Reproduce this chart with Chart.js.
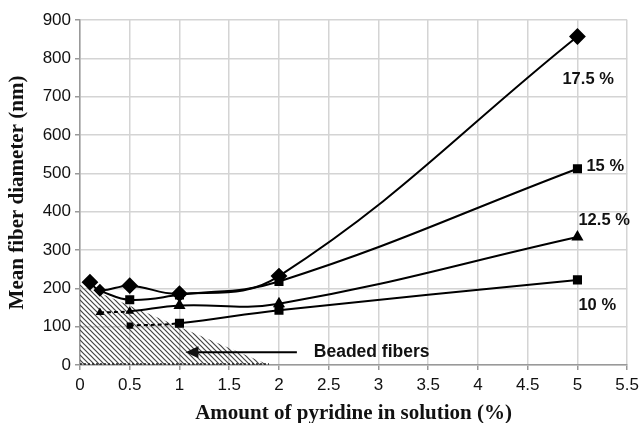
<!DOCTYPE html>
<html>
<head>
<meta charset="utf-8">
<script src="https://cdn.jsdelivr.net/npm/chart.js@4"></script>
<style>
  body { margin: 0; background: #fff; }
  #wrap { width: 644px; height: 423px; }
</style>
</head>
<body>
<div id="wrap"><canvas id="fiberChart" width="644" height="423"></canvas></div>
<script>
// values
const xTicks = [0, 0.5, 1, 1.5, 2, 2.5, 3, 3.5, 4, 4.5, 5, 5.5];
const yTicks = [0, 100, 200, 300, 400, 500, 600, 700, 800, 900];

const pyridine175 = [0.1, 0.2, 0.5, 1, 2, 5];
const diameter175 = [216, 195, 207, 186, 232, 857];

const pyridine15 = [0.2, 0.5, 1, 2, 5];
const diameter15 = [193, 170, 183, 218, 512];

const pyridine125 = [0.2, 0.5, 1, 2, 5];
const diameter125 = [137, 140, 155, 160, 334];

const pyridine10 = [0.5, 1, 2, 5];
const diameter10 = [103, 109, 143, 222];

// beaded fibers region (triangle)
const beadedX = [0, 1.9];
const beadedY = [210, 0];

const seriesLabels = ['17.5 %', '15 %', '12.5 %', '10 %'];

function toPoints(xs, ys) {
    return xs.map((x, i) => ({ x: x, y: ys[i] }));
}

// hatch pattern for the beaded region
function makeHatch() {
    const c = document.createElement('canvas');
    c.width = 5; c.height = 5;
    const g = c.getContext('2d');
    g.strokeStyle = '#444';
    g.lineWidth = 1.2;
    g.beginPath();
    g.moveTo(-1, -1); g.lineTo(6, 6);
    g.moveTo(-1, 4); g.lineTo(1, 6);
    g.moveTo(4, -1); g.lineTo(6, 1);
    g.stroke();
    return g.createPattern(c, 'repeat');
}

const dashFirst = {
    borderDash: ctx => ctx.p0DataIndex === 0 ? [4, 3] : undefined
};

// text labels, arrow, baseline of beaded region
const annotations = {
    id: 'annotations',
    afterDatasetsDraw(chart) {
        const ctx = chart.ctx;
        const xs = chart.scales.x, ys = chart.scales.y;
        ctx.save();

        // dotted base of the hatched area
        ctx.strokeStyle = '#222';
        ctx.lineWidth = 1.5;
        ctx.setLineDash([2, 2]);
        ctx.beginPath();
        ctx.moveTo(xs.getPixelForValue(beadedX[0]), ys.getPixelForValue(0) - 1);
        ctx.lineTo(xs.getPixelForValue(beadedX[1]), ys.getPixelForValue(0) - 1);
        ctx.stroke();
        ctx.setLineDash([]);

        ctx.fillStyle = '#111';
        ctx.font = 'bold 16.5px "Liberation Sans", Arial, sans-serif';
        ctx.textBaseline = 'middle';
        ctx.textAlign = 'left';
        const px5 = xs.getPixelForValue(5);
        ctx.fillText(seriesLabels[0], px5 - 15, ys.getPixelForValue(744));
        ctx.fillText(seriesLabels[1], px5 + 9, ys.getPixelForValue(517));
        ctx.fillText(seriesLabels[2], px5 + 1, ys.getPixelForValue(377));
        ctx.fillText(seriesLabels[3], px5 + 1, ys.getPixelForValue(156));

        // arrow to the beaded region
        const ay = ys.getPixelForValue(33);
        const ax0 = xs.getPixelForValue(2.18), ax1 = xs.getPixelForValue(1.06);
        ctx.strokeStyle = '#000';
        ctx.lineWidth = 2;
        ctx.beginPath();
        ctx.moveTo(ax0, ay); ctx.lineTo(ax1 + 6, ay);
        ctx.stroke();
        ctx.beginPath();
        ctx.moveTo(ax1, ay);
        ctx.lineTo(ax1 + 13, ay - 6);
        ctx.lineTo(ax1 + 13, ay + 6);
        ctx.closePath();
        ctx.fill();
        ctx.font = 'bold 17.5px "Liberation Sans", Arial, sans-serif';
        ctx.fillText('Beaded fibers', xs.getPixelForValue(2.35), ay);
        ctx.restore();
    }
};

document.addEventListener('DOMContentLoaded', function() {
    const ctx = document.getElementById('fiberChart').getContext('2d');
    const lineBase = {
        borderColor: '#000',
        backgroundColor: '#000',
        pointBackgroundColor: '#000',
        pointBorderColor: '#000',
        borderWidth: 2,
        tension: 0.4,
        fill: false
    };
    const tickFont = { family: '"Liberation Sans", Arial, sans-serif', size: 17 };
    const titleFont = { family: '"Liberation Serif", "Times New Roman", serif', size: 21, weight: 'bold' };

    new Chart(ctx, {
        type: 'line',
        data: {
            datasets: [
                Object.assign({}, lineBase, {
                    label: seriesLabels[0],
                    data: toPoints(pyridine175, diameter175),
                    pointStyle: 'rectRot',
                    pointRadius: [7, 5, 7, 7, 7, 7]
                }),
                Object.assign({}, lineBase, {
                    label: seriesLabels[1],
                    data: toPoints(pyridine15, diameter15),
                    pointStyle: 'rect',
                    pointRadius: [0, 5, 5, 5, 5]
                }),
                Object.assign({}, lineBase, {
                    label: seriesLabels[2],
                    data: toPoints(pyridine125, diameter125),
                    pointStyle: 'triangle',
                    pointRadius: [3, 3, 5, 5, 5],
                    segment: dashFirst
                }),
                Object.assign({}, lineBase, {
                    label: seriesLabels[3],
                    data: toPoints(pyridine10, diameter10),
                    pointStyle: 'rect',
                    pointRadius: [3, 5, 5, 5],
                    segment: dashFirst
                }),
                {
                    label: 'Beaded fibers',
                    data: toPoints(beadedX, beadedY),
                    borderWidth: 0,
                    borderColor: 'rgba(0,0,0,0)',
                    pointRadius: 0,
                    backgroundColor: makeHatch(),
                    fill: 'origin',
                    tension: 0,
                    order: 10
                }
            ]
        },
        options: {
            responsive: false,
            animation: false,
            layout: { padding: { top: 20, right: 10, left: 0, bottom: 0 } },
            plugins: {
                legend: { display: false },
                tooltip: { enabled: false }
            },
            scales: {
                x: {
                    type: 'linear',
                    min: 0,
                    max: 5.5,
                    afterBuildTicks: axis => { axis.ticks = xTicks.map(v => ({ value: v })); },
                    ticks: {
                        color: '#111',
                        font: tickFont,
                        padding: 5,
                        maxRotation: 0,
                        callback: v => String(v)
                    },
                    grid: { color: '#d4d4d4', lineWidth: 1.5, tickLength: 5, tickColor: '#999' },
                    border: { color: '#999', width: 1.5 },
                    title: {
                        display: true,
                        text: 'Amount of pyridine in solution (%)',
                        color: '#111',
                        font: titleFont,
                        padding: { top: 2, bottom: -3 }
                    },
                    afterFit: axis => { axis.height = 58; }
                },
                y: {
                    min: 0,
                    max: 900,
                    afterBuildTicks: axis => { axis.ticks = yTicks.map(v => ({ value: v })); },
                    ticks: {
                        color: '#111',
                        font: tickFont,
                        padding: 4
                    },
                    grid: { color: '#d4d4d4', lineWidth: 1.5, tickLength: 5, tickColor: '#999' },
                    border: { color: '#999', width: 1.5 },
                    title: {
                        display: true,
                        text: 'Mean fiber diameter (nm)',
                        color: '#111',
                        font: titleFont,
                        padding: { top: 5, bottom: 4 }
                    },
                    afterFit: axis => { axis.width = 80; }
                }
            }
        },
        plugins: [annotations]
    });
});
</script>
</body>
</html>
